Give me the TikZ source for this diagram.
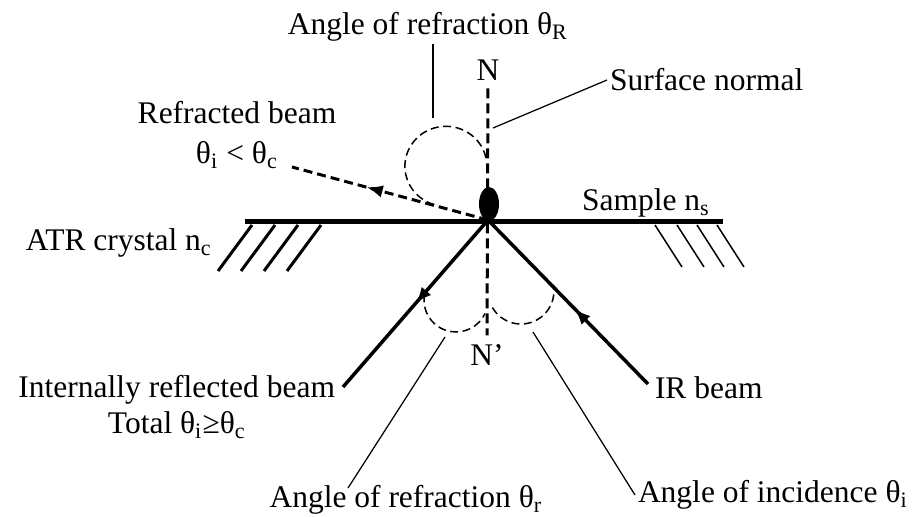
\documentclass[tikz,border=0pt]{standalone}
\usepackage{fontspec}
\setmainfont{Liberation Serif}
\usetikzlibrary{arrows.meta,decorations.markings}

\tikzset{
  lbl/.style={inner sep=1pt, font=\fontsize{12.6}{15}\selectfont},
  beam/.style={line width=1.4pt},
  refrbeam/.style={line width=1.2pt, dash pattern=on 3.6pt off 2pt},
  midarrow/.style={postaction={decorate}, decoration={markings,
    mark=at position #1 with {\arrow{Latex[length=6.5pt,width=5pt]}}}},
  normalline/.style={line width=1.2pt, dash pattern=on 4pt off 2pt},
  anglearc/.style={line width=0.6pt, dash pattern=on 3.2pt off 1.8pt},
  leader/.style={line width=0.5pt},
}

\begin{document}
\begin{tikzpicture}[x=0.4pt, y=-0.4pt]
  \useasboundingbox (0,0) rectangle (916,516);
  \coordinate (O) at (488,220);
  \coordinate (sL) at (245,221);
  \coordinate (sR) at (723,221);
  \coordinate (refrEnd) at (292,167);
  \coordinate (irEnd) at (648,384);
  \coordinate (rflEnd) at (343,387);

  % crystal / sample interface
  \foreach \x in {252,275,298,321}
    \draw[line width=1.2pt] (\x,225) -- ++(-34,46);
  \foreach \x in {655,677,697,717}
    \draw[line width=0.6pt] (\x,225) -- ++(27,42);
  \draw[line width=2pt] (sL) -- (sR);

  % normal
  \node[lbl] (nTop) at (488,70) {N};
  \node[lbl] (nBot) at (487,355) {N’};
  \draw[normalline, shorten <=2pt, shorten >=2.5pt] (nTop.south) -- (nBot.north);
  \fill (489,204) ellipse [x radius=4pt, y radius=6.8pt];

  % beams
  \draw[refrbeam, midarrow=0.62] (O) -- (refrEnd);
  \draw[beam, midarrow=0.46] (irEnd) -- (O);
  \draw[beam, midarrow=0.5] (O) -- (rflEnd);

  % angles
  \coordinate (aRs) at (486,158);
  \draw[anglearc] (aRs) arc[start angle=12, end angle=255,
    x radius=16.4pt, y radius=16pt];
  \coordinate (aLs) at (424.5,294.4);
  \draw[anglearc] (aLs) arc[start angle=170, end angle=335, radius=12.8pt];
  \coordinate (aIs) at (492.4,307.5);
  \draw[anglearc] (aIs) arc[start angle=210, end angle=370, radius=13.2pt];

  % labels
  \node[lbl] (topLbl) at (428,27) {Angle of refraction θ\textsubscript{R}};
  \coordinate (aRtop) at (433,118);
  \draw[leader] (aRtop) -- (aRtop |- topLbl.south);

  \node[lbl, anchor=west] (surfLbl) at (607,80) {Surface normal};
  \coordinate (surfPt) at (493,128);
  \draw[leader] (surfPt) -- (surfLbl.west);

  \node[lbl] (refrLbl) at (237,113) {Refracted beam};
  \node[lbl] (refrCond) at (237,155) {θ\textsubscript{i} < θ\textsubscript{c}};
  \node[lbl] (atrLbl) at (119,243) {ATR crystal n\textsubscript{c}};
  \node[lbl] (smpLbl) at (646,203) {Sample n\textsubscript{s}};
  \node[lbl, anchor=west] (irLbl) at (652,388) {IR beam};
  \node[lbl, anchor=east] (rflLbl) at (338,390) {Internally reflected beam};
  \node[lbl] (rflCond) at (177,425) {Total θ\textsubscript{i}≥θ\textsubscript{c}};

  \node[lbl] (botLLbl) at (406,500) {Angle of refraction θ\textsubscript{r}};
  \coordinate (arLpt) at (445,337);
  \coordinate (arLend) at (348,488);
  \draw[leader] (arLpt) -- (arLend);

  \node[lbl, anchor=west] (botRLbl) at (635,495) {Angle of incidence θ\textsubscript{i}};
  \coordinate (arRpt) at (533,332);
  \draw[leader] (arRpt) -- (botRLbl.west);
\end{tikzpicture}
\end{document}
